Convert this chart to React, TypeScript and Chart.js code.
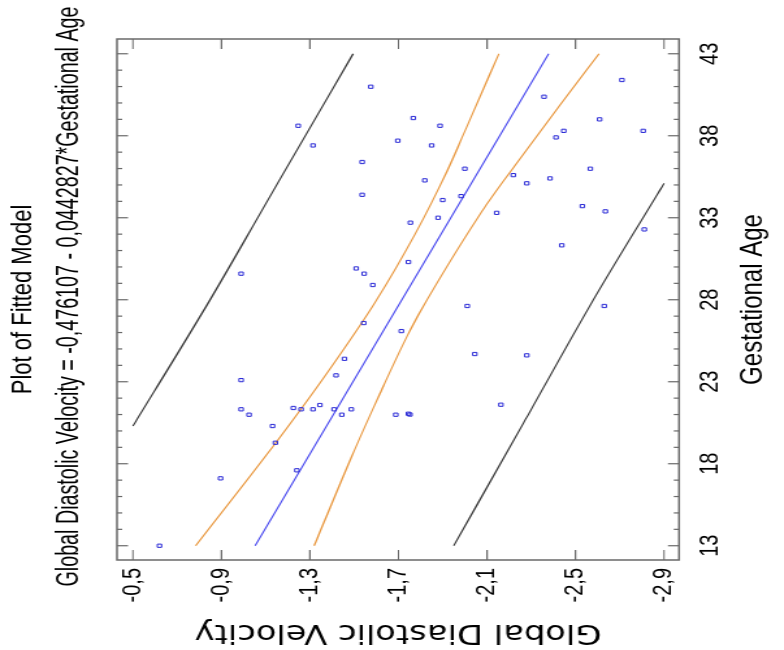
import React, { useEffect, useRef } from "react";
import { Chart, registerables } from "chart.js";
Chart.register(...registerables);

// ---- data ----
const gestAge = [
  13.0, 17.11, 17.6, 19.28, 20.3, 21.32, 20.99, 23.1, 21.4, 21.32, 21.32, 21.58, 21.32, 20.99, 21.32,
  23.39, 24.4, 26.58, 26.09, 20.99, 21.05, 21.0, 27.62, 27.62, 24.69, 24.61, 21.6,
  40.99, 38.61, 37.41, 37.7, 39.08, 36.4, 34.4, 32.7, 29.59, 29.91, 29.59, 28.9, 30.3,
  38.61, 37.41, 35.28, 35.99, 34.32, 34.08, 33.0, 33.3, 35.6, 35.1, 35.4, 40.38, 38.3, 37.9,
  31.32, 33.71, 35.99, 39.0, 33.39, 41.4, 38.3, 32.29,
];
const diastolicVel = [
  -0.62, -0.896, -1.241, -1.144, -1.131, -0.989, -1.025, -0.989, -1.225, -1.26, -1.314, -1.345, -1.409, -1.444, -1.487,
  -1.418, -1.456, -1.543, -1.713, -1.688, -1.745, -1.752, -2.011, -2.63, -2.045, -2.28, -2.163,
  -1.575, -1.247, -1.314, -1.697, -1.767, -1.536, -1.536, -1.754, -0.989, -1.509, -1.545, -1.584, -1.745,
  -1.888, -1.85, -1.819, -2.0, -1.983, -1.9, -1.879, -2.144, -2.219, -2.28, -2.385, -2.358, -2.447, -2.412,
  -2.438, -2.531, -2.567, -2.609, -2.635, -2.71, -2.806, -2.811,
];

const fitGA = [13, 43];
const fitGDV = [-1.052, -2.379];

const confUpperGA = [13, 19, 23.3, 28, 32, 35.8, 38.9, 43];
const confUpperGDV = [-0.784, -1.13, -1.365, -1.602, -1.775, -1.918, -2.02, -2.154];

const confLowerGA = [13, 18.8, 22.3, 26.2, 28, 33.4, 36.2, 39.9, 43];
const confLowerGDV = [-1.319, -1.5, -1.617, -1.755, -1.829, -2.078, -2.227, -2.431, -2.606];

const predUpperGA = [20.3, 27.6, 35.2, 43];
const predUpperGDV = [-0.5, -0.831, -1.158, -1.495];

const predLowerGA = [13, 20.46, 27.98, 35.1];
const predLowerGDV = [-1.95, -2.264, -2.58, -2.9];

const xTickValues = [13, 18, 23, 28, 33, 38, 43];
const yTickValues = [-0.5, -0.9, -1.3, -1.7, -2.1, -2.5, -2.9];
const yTickLabels = ["-0,5", "-0,9", "-1,3", "-1,7", "-2,1", "-2,5", "-2,9"];

const titleText = "Plot of Fitted Model";
const subtitleText = "Global Diastolic Velocity = -0,476107 - 0,0442827*Gestational Age";
const xTitle = "Gestational Age";
const yTitle = "Global Diastolic Velocity";

// ---- layout ----
const CW = 650;
const CH = 603;
const STRETCH = 784 / CH;

const SANS = "'Liberation Sans', Arial, sans-serif";

const toPts = (xs: number[], ys: number[]) => xs.map((x, i) => ({ x, y: ys[i] }));

const frameTicks = {
  id: "frameTicks",
  afterDatasetsDraw(chart: any) {
    const { ctx, chartArea: a, scales } = chart;
    const xs = scales.x;
    const ys = scales.y;
    ctx.save();
    ctx.strokeStyle = "#6a6a6a";
    ctx.lineWidth = 1.5;
    ctx.strokeRect(a.left, a.top, a.right - a.left, a.bottom - a.top);
    ctx.lineWidth = 1.2;
    ctx.beginPath();
    const first = xTickValues[0];
    const last = xTickValues[xTickValues.length - 1];
    for (let g = first; g <= last; g += 1) {
      const px = xs.getPixelForValue(g);
      const len = xTickValues.includes(g) ? 8.5 : 4;
      ctx.moveTo(px, a.bottom);
      ctx.lineTo(px, a.bottom - len);
      ctx.moveTo(px, a.top);
      ctx.lineTo(px, a.top + len);
    }
    yTickValues.forEach((v) => {
      const py = ys.getPixelForValue(v);
      ctx.moveTo(a.left, py);
      ctx.lineTo(a.left + 10, py);
      ctx.moveTo(a.right, py);
      ctx.lineTo(a.right - 10, py);
    });
    ctx.stroke();

    // second title line (model equation), condensed, centred over the plot
    ctx.fillStyle = "#000";
    ctx.font = `23px ${SANS}`;
    ctx.textAlign = "center";
    ctx.textBaseline = "middle";
    ctx.fillText(subtitleText, (a.left + a.right) / 2 + 3, 54, 580);
    ctx.restore();
  },
};

export default function App() {
  const ref = useRef<HTMLCanvasElement | null>(null);

  useEffect(() => {
    if (!ref.current) return;
    const lineDs = (label: string, data: any[], color: string) => ({
      label,
      data,
      showLine: true,
      borderColor: color,
      borderWidth: 1.2,
      pointRadius: 0,
      fill: false,
      cubicInterpolationMode: "monotone",
    });
    const chart = new Chart(ref.current, {
      type: "scatter",
      data: {
        datasets: [
          {
            label: "Observations",
            data: toPts(gestAge, diastolicVel),
            pointStyle: "rect",
            pointRadius: 2.3,
            borderWidth: 1,
            borderColor: "#2a2ad6",
            backgroundColor: "rgba(0,0,0,0)",
          },
          lineDs("Prediction upper", toPts(predUpperGA, predUpperGDV), "#333333"),
          lineDs("Prediction lower", toPts(predLowerGA, predLowerGDV), "#333333"),
          lineDs("Confidence upper", toPts(confUpperGA, confUpperGDV), "#e8963c"),
          lineDs("Confidence lower", toPts(confLowerGA, confLowerGDV), "#e8963c"),
          lineDs("Fitted", toPts(fitGA, fitGDV), "#4444ee"),
        ] as any,
      },
      options: {
        animation: false,
        responsive: false,
        devicePixelRatio: 1,
        layout: { padding: { left: 0, right: 39, top: 0, bottom: 0 } },
        plugins: {
          legend: { display: false },
          tooltip: { enabled: false },
          title: {
            display: true,
            text: titleText,
            color: "#000",
            fullSize: false,
            font: { family: SANS, size: 22, weight: "normal" },
            padding: { top: 4.5, bottom: 59.1 },
          },
          subtitle: { display: false },
        },
        scales: {
          x: {
            type: "linear",
            min: 12.13,
            max: 43.9,
            grid: { display: false, drawTicks: false },
            border: { display: false },
            afterBuildTicks: (s: any) => {
              s.ticks = xTickValues.map((v) => ({ value: v }));
            },
            afterFit: (s: any) => {
              s.height = 80.7;
            },
            ticks: {
              autoSkip: false,
              maxRotation: 0,
              padding: 12,
              color: "#000",
              font: { family: SANS, size: 20 },
              callback: (v: any) => String(v),
            },
            title: {
              display: true,
              text: xTitle,
              color: "#000",
              font: { family: SANS, size: 24 },
              padding: { top: 0, bottom: 9 },
            },
          },
          y: {
            type: "linear",
            min: -2.968,
            max: -0.428,
            grid: { display: false, drawTicks: false },
            border: { display: false },
            afterBuildTicks: (s: any) => {
              s.ticks = yTickValues.map((v) => ({ value: v }));
            },
            afterFit: (s: any) => {
              s.width = 90;
            },
            ticks: {
              autoSkip: false,
              padding: 8,
              color: "#000",
              font: { family: SANS, size: 20 },
              callback: (v: any) => {
                const i = yTickValues.findIndex((t) => Math.abs(t - Number(v)) < 1e-6);
                return i >= 0 ? yTickLabels[i] : "";
              },
            },
            title: {
              display: true,
              text: yTitle,
              color: "#000",
              font: { family: "'DejaVu Sans', sans-serif", size: 26 },
              padding: { top: 2.5, bottom: 0 },
            },
          },
        },
      },
      plugins: [frameTicks],
    });
    return () => chart.destroy();
  }, []);

  return (
    <div
      style={{
        position: "absolute",
        left: 0,
        top: 0,
        width: CW,
        height: CH,
        transformOrigin: "0 0",
        transform: `translate(0px, ${CW}px) rotate(-90deg) scale(1, ${STRETCH})`,
        background: "#fff",
      }}
    >
      <canvas ref={ref} width={CW} height={CH} style={{ display: "block", width: CW, height: CH }} />
    </div>
  );
}
